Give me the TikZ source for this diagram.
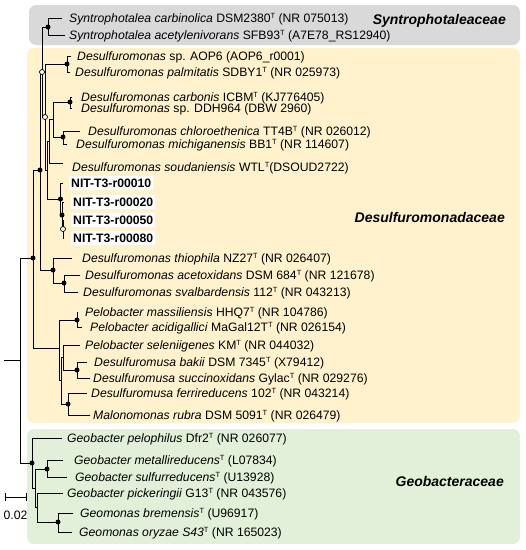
\documentclass[tikz,border=0pt]{standalone}
\usepackage{fontspec}
\setmainfont{Liberation Sans}
\definecolor{graybox}{HTML}{D9D9D9}
\definecolor{yelbox}{HTML}{FFF2CC}
\definecolor{grnbox}{HTML}{E2F0D9}
\tikzset{
 br/.style={line width=0.9pt, line cap=rect, black},
 lbl/.style={anchor=west, inner sep=0pt, font=\fontsize{12.2}{14}\selectfont, text height=8.6pt, text depth=0pt},
 nit/.style={lbl, font=\fontsize{12.2}{14}\selectfont\bfseries, fill=white, inner xsep=2pt, inner ysep=2.5pt},
 fam/.style={anchor=east, inner sep=0pt, font=\fontsize{14}{16}\selectfont\bfseries\itshape, text height=10pt, text depth=0pt},
 dotf/.style={circle, fill=black, inner sep=0pt, minimum size=5pt},
 doto/.style={circle, draw=black, fill=white, line width=0.7pt, inner sep=0pt, minimum size=5pt},
}
\newcommand{\Tsup}{\raisebox{4.2pt}{\fontsize{7.5}{8}\selectfont T}}
\begin{document}
\begin{tikzpicture}[x=1pt,y=-1pt]
\useasboundingbox (0,0) rectangle (526,550);
% backgrounds
\fill[graybox, rounded corners=7pt] (29,5) rectangle (520,45);
\fill[yelbox, rounded corners=7pt] (27,48) rectangle (520,423);
\fill[grnbox, rounded corners=7pt] (27,429) rectangle (520,544);
% internal nodes
\coordinate (r0) at (4,360);
\coordinate (R) at (20,360);
\coordinate (C) at (33,258);
\coordinate (D) at (40,170);
\coordinate (A) at (42,72);
\coordinate (S) at (48,27);
\coordinate (B) at (45,117);
\coordinate (AOP) at (67,64);
\coordinate (K) at (47,170);
\coordinate (G) at (49,141);
\coordinate (H) at (53,119);
\coordinate (CA) at (70,102);
\coordinate (CH) at (63,137);
\coordinate (N1) at (60.5,199);
\coordinate (N2) at (62,215);
\coordinate (N3) at (63,229);
\coordinate (E) at (53,270);
\coordinate (F) at (64,283);
\coordinate (P) at (59,348);
\coordinate (PM) at (77,320);
\coordinate (Q2) at (61,380);
\coordinate (Q) at (63,357);
\coordinate (DM) at (77,370);
\coordinate (FM) at (68,404);
\coordinate (GEO) at (32,463);
\coordinate (X) at (35,488);
\coordinate (GM) at (47,469);
\coordinate (Y) at (37,507);
\coordinate (GMN) at (58,522);
% tip ends
\coordinate (e1) at (62,18);
\coordinate (e2) at (65,35);
\coordinate (e3) at (71,56);
\coordinate (e4) at (70,72);
\coordinate (e5) at (72,97);
\coordinate (e6) at (72,108);
\coordinate (e7) at (80,131);
\coordinate (e8) at (67,144);
\coordinate (e9) at (63,163);
\coordinate (e10) at (63,183);
\coordinate (e11) at (64,202);
\coordinate (e12) at (64,220);
\coordinate (e13) at (64,238);
\coordinate (e14) at (72,258);
\coordinate (e15) at (80,275);
\coordinate (e16) at (78,292);
\coordinate (e17) at (78,312);
\coordinate (e18) at (82,327);
\coordinate (e19) at (80,345);
\coordinate (e20) at (87,362);
\coordinate (e21) at (90,378);
\coordinate (e22) at (87,393);
\coordinate (e23) at (90,415);
\coordinate (e24) at (62,438);
\coordinate (e25) at (63,460);
\coordinate (e26) at (67,477);
\coordinate (e27) at (63,493);
\coordinate (e28) at (73,513);
\coordinate (e29) at (72,532);
% branches
\draw[br] (r0) -- (R);
\draw[br] (R) |- (C); \draw[br] (R) |- (GEO);
\draw[br] (C) |- (D); \draw[br] (C) |- (P);
\draw[br] (D) |- (A); \draw[br] (D) |- (E);
\draw[br] (A) |- (S); \draw[br] (A) |- (B);
\draw[br] (B) |- (AOP); \draw[br] (B) |- (K);
\draw[br] (K) |- (G); \draw[br] (K) |- (N1);
\draw[br] (G) |- (H); \draw[br] (G) |- (e9);
\draw[br] (H) |- (CA); \draw[br] (H) |- (CH);
\draw[br] (CA) |- (e5); \draw[br] (CA) |- (e6);
\draw[br] (CH) |- (e7); \draw[br] (CH) |- (e8);
\draw[br] (S) |- (e1); \draw[br] (S) |- (e2);
\draw[br] (AOP) |- (e3); \draw[br] (AOP) |- (e4);
\draw[br] (N1) |- (e10); \draw[br] (N1) |- (N2);
\draw[br] (N2) |- (e11); \draw[br] (N2) |- (N3);
\draw[br] (N3) |- (e12); \draw[br] (N3) |- (e13);
\draw[br] (E) |- (e14); \draw[br] (E) |- (F);
\draw[br] (F) |- (e15); \draw[br] (F) |- (e16);
\draw[br] (P) |- (PM); \draw[br] (P) |- (Q2);
\draw[br] (PM) |- (e17); \draw[br] (PM) |- (e18);
\draw[br] (Q2) |- (Q); \draw[br] (Q2) |- (FM);
\draw[br] (Q) |- (e19); \draw[br] (Q) |- (DM);
\draw[br] (DM) |- (e20); \draw[br] (DM) |- (e21);
\draw[br] (FM) |- (e22); \draw[br] (FM) |- (e23);
\draw[br] (GEO) |- (e24); \draw[br] (GEO) |- (X);
\draw[br] (X) |- (GM); \draw[br] (X) |- (Y);
\draw[br] (GM) |- (e25); \draw[br] (GM) |- (e26);
\draw[br] (Y) |- (e27); \draw[br] (Y) |- (GMN);
\draw[br] (GMN) |- (e28); \draw[br] (GMN) |- (e29);
% support dots
\node[dotf] (dS) at (S) {};
\node[dotf] (dAOP) at (AOP) {};
\node[dotf] (dCA) at (CA) {};
\node[dotf] (dCH) at (CH) {};
\node[dotf] (dD) at (D) {};
\node[dotf] (dC) at (C) {};
\node[dotf] (dN1) at (N1) {};
\node[dotf] (dN2) at (N2) {};
\node[dotf] (dE) at (E) {};
\node[dotf] (dF) at (F) {};
\node[dotf] (dPM) at (PM) {};
\node[dotf] (dDM) at (DM) {};
\node[dotf] (dFM) at (FM) {};
\node[dotf] (dGEO) at (GEO) {};
\node[dotf] (dGM) at (GM) {};
\node[dotf] (dGMN) at (GMN) {};
\node[doto] (oA) at (A) {};
\node[doto] (oB) at (B) {};
\node[doto] (oN3) at (N3) {};
% labels
\node[lbl] (t1) at (69,18) {\textit{Syntrophotalea carbinolica} DSM2380\Tsup{} (NR 075013)};
\node[lbl] (t2) at (69,35) {\textit{Syntrophotalea acetylenivorans} SFB93\Tsup{} (A7E78\_RS12940)};
\node[lbl] (t3) at (77,56) {\textit{Desulfuromonas} sp. AOP6 (AOP6\_r0001)};
\node[lbl] (t4) at (75,72) {\textit{Desulfuromonas palmitatis} SDBY1\Tsup{} (NR 025973)};
\node[lbl] (t5) at (81,97) {\textit{Desulfuromonas carbonis} ICBM\Tsup{} (KJ776405)};
\node[lbl] (t6) at (81,108) {\textit{Desulfuromonas} sp. DDH964 (DBW 2960)};
\node[lbl] (t7) at (88,131) {\textit{Desulfuromonas chloroethenica} TT4B\Tsup{} (NR 026012)};
\node[lbl] (t8) at (76,144) {\textit{Desulfuromonas michiganensis} BB1\Tsup{} (NR 114607)};
\node[lbl] (t9) at (72,167) {\textit{Desulfuromonas soudaniensis} WTL\Tsup{}(DSOUD2722)};
\node[nit] (t10) at (69,183) {NIT-T3-r00010};
\node[nit] (t11) at (71,202) {NIT-T3-r00020};
\node[nit] (t12) at (71,220) {NIT-T3-r00050};
\node[nit] (t13) at (71,238) {NIT-T3-r00080};
\node[lbl] (t14) at (82,258) {\textit{Desulfuromonas thiophila} NZ27\Tsup{} (NR 026407)};
\node[lbl] (t15) at (85,275) {\textit{Desulfuromonas acetoxidans} DSM 684\Tsup{} (NR 121678)};
\node[lbl] (t16) at (83,292) {\textit{Desulfuromonas svalbardensis} 112\Tsup{} (NR 043213)};
\node[lbl] (t17) at (85,312) {\textit{Pelobacter massiliensis} HHQ7\Tsup{} (NR 104786)};
\node[lbl] (t18) at (90,327) {\textit{Pelobacter acidigallici} MaGal12T\Tsup{} (NR 026154)};
\node[lbl] (t19) at (85,345) {\textit{Pelobacter seleniigenes} KM\Tsup{} (NR 044032)};
\node[lbl] (t20) at (94,362) {\textit{Desulfuromusa bakii} DSM 7345\Tsup{} (X79412)};
\node[lbl] (t21) at (93,378) {\textit{Desulfuromusa succinoxidans} Gylac\Tsup{} (NR 029276)};
\node[lbl] (t22) at (91,393) {\textit{Desulfuromusa ferrireducens} 102\Tsup{} (NR 043214)};
\node[lbl] (t23) at (93,415) {\textit{Malonomonas rubra} DSM 5091\Tsup{} (NR 026479)};
\node[lbl] (t24) at (67,438) {\textit{Geobacter pelophilus} Dfr2\Tsup{} (NR 026077)};
\node[lbl] (t25) at (74,460) {\textit{Geobacter metallireducens}\Tsup{} (L07834)};
\node[lbl] (t26) at (75,477) {\textit{Geobacter sulfurreducens}\Tsup{} (U13928)};
\node[lbl] (t27) at (67,493) {\textit{Geobacter pickeringii} G13\Tsup{} (NR 043576)};
\node[lbl] (t28) at (80,513) {\textit{Geomonas bremensis}\Tsup{} (U96917)};
\node[lbl] (t29) at (79,532) {\textit{Geomonas oryzae S43}\Tsup{} (NR 165023)};
% family labels
\node[fam] (f1) at (506,19) {Syntrophotaleaceae};
\node[fam] (f2) at (505,217) {Desulfuromonadaceae};
\node[fam] (f3) at (504,481) {Geobacteraceae};
% scale bar
\coordinate (sb1) at (5,497);
\coordinate (sb2) at (26,497);
\draw[br, line cap=butt] (sb1) -- (sb2);
\draw[br, line cap=butt] ([yshift=-4pt]sb1) -- ([yshift=4pt]sb1);
\draw[br, line cap=butt] ([yshift=-4pt]sb2) -- ([yshift=4pt]sb2);
\node[lbl, anchor=center] (sbl) at (15.5,515) {0.02};
\end{tikzpicture}
\end{document}
